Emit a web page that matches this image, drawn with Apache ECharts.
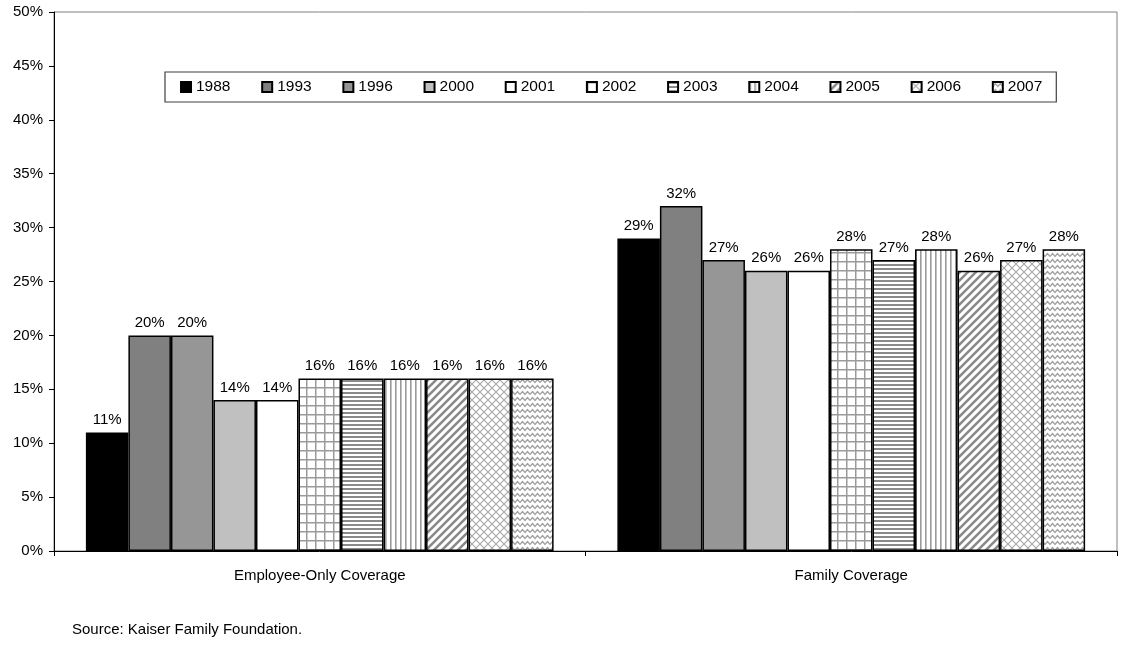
<!DOCTYPE html>
<html>
<head>
<meta charset="utf-8">
<script src="https://cdn.jsdelivr.net/npm/echarts@6/dist/echarts.min.js"></script>
<style>
  html, body { margin: 0; padding: 0; background: #fff; }
  #chart { width: 1122px; height: 658px; }
</style>
</head>
<body>
<div id="chart"></div>
<script>
// Share of premium paid by workers, by coverage type and year
const categories = ['Employee-Only Coverage', 'Family Coverage'];
const years = ['1988', '1993', '1996', '2000', '2001', '2002', '2003', '2004', '2005', '2006', '2007'];
const employeeOnly = [11, 20, 20, 14, 14, 16, 16, 16, 16, 16, 16];
const family = [29, 32, 27, 26, 26, 28, 27, 28, 26, 27, 28];
const yTicks = [0, 5, 10, 15, 20, 25, 30, 35, 40, 45, 50];
const sourceNote = 'Source: Kaiser Family Foundation.';

const FONT = '"Liberation Sans", Arial, sans-serif';

// Fill patterns drawn on small canvas tiles
function tile(w, h, draw) {
  const c = document.createElement('canvas');
  c.width = w; c.height = h;
  const ctx = c.getContext('2d');
  ctx.fillStyle = '#ffffff';
  ctx.fillRect(0, 0, w, h);
  draw(ctx, w, h);
  return { image: c, repeat: 'repeat' };
}
const patGrid = tile(9, 9, (ctx) => {
  ctx.fillStyle = '#9a9a9a';
  ctx.fillRect(0, 0, 9, 1.5);
  ctx.fillRect(0, 0, 1.5, 9);
});
const patHoriz = tile(4, 4, (ctx) => {
  ctx.fillStyle = '#8a8a8a';
  ctx.fillRect(0, 0, 4, 2);
});
const patVert = tile(5, 5, (ctx) => {
  ctx.fillStyle = '#9a9a9a';
  ctx.fillRect(0, 0, 1.6, 5);
});
const patDiag = tile(8, 8, (ctx) => {
  ctx.strokeStyle = '#8a8a8a';
  ctx.lineWidth = 2.6;
  ctx.beginPath();
  ctx.moveTo(-2, 10); ctx.lineTo(10, -2);
  ctx.moveTo(-2, 2); ctx.lineTo(2, -2);
  ctx.moveTo(6, 10); ctx.lineTo(10, 6);
  ctx.stroke();
});
const patCross = tile(8, 8, (ctx) => {
  ctx.strokeStyle = '#a8a8a8';
  ctx.lineWidth = 1.1;
  ctx.beginPath();
  ctx.moveTo(0, 0); ctx.lineTo(8, 8);
  ctx.moveTo(8, 0); ctx.lineTo(0, 8);
  ctx.stroke();
});
const patWave = tile(10, 6, (ctx) => {
  ctx.strokeStyle = '#a0a0a0';
  ctx.lineWidth = 1.2;
  ctx.beginPath();
  ctx.moveTo(0, 4.5); ctx.lineTo(2.5, 1.5); ctx.lineTo(5, 4.5); ctx.lineTo(7.5, 1.5); ctx.lineTo(10, 4.5);
  ctx.stroke();
});

const fills = ['#000000', '#808080', '#969696', '#c0c0c0', '#ffffff',
  patGrid, patHoriz, patVert, patDiag, patCross, patWave];

const series = years.map((y, i) => ({
  name: y,
  type: 'bar',
  barGap: '0%',
  barCategoryGap: '12%',
  data: [employeeOnly[i], family[i]],
  itemStyle: { color: fills[i], borderColor: '#000', borderWidth: 1.5 },
  label: {
    show: true,
    position: 'top',
    distance: 5,
    formatter: '{c}%',
    fontFamily: FONT,
    fontSize: 15,
    color: '#000'
  },
  emphasis: { disabled: true },
  animation: false
}));

const chart = echarts.init(document.getElementById('chart'), null, { renderer: 'canvas' });
chart.setOption({
  backgroundColor: '#ffffff',
  animation: false,
  grid: {
    left: 54, right: 5, top: 12, bottom: 107,
    show: true, borderColor: '#808080', borderWidth: 1, backgroundColor: '#ffffff'
  },
  legend: {
    data: years,
    left: 165,
    top: 72,
    padding: [7, 14, 7, 15],
    itemWidth: 10,
    itemHeight: 10,
    itemGap: 30.7,
    borderColor: '#404040',
    borderWidth: 1.2,
    backgroundColor: '#ffffff',
    icon: 'rect',
    textStyle: { fontFamily: FONT, fontSize: 15.5, color: '#000' },
    selectedMode: false
  },
  xAxis: {
    type: 'category',
    data: categories,
    axisLine: { show: true, lineStyle: { color: '#000', width: 1 } },
    axisTick: { show: true, alignWithLabel: false, length: 5, lineStyle: { color: '#000' } },
    axisLabel: { fontFamily: FONT, fontSize: 15, color: '#000', margin: 17 }
  },
  yAxis: {
    type: 'value',
    min: yTicks[0],
    max: yTicks[yTicks.length - 1],
    interval: yTicks[1] - yTicks[0],
    axisLine: { show: true, lineStyle: { color: '#000', width: 1 } },
    axisTick: { show: true, length: 5, lineStyle: { color: '#000' } },
    splitLine: { show: false },
    axisLabel: { formatter: '{value}%', fontFamily: FONT, fontSize: 15, color: '#000', margin: 11 }
  },
  graphic: [{
    type: 'text',
    left: 72,
    top: 622,
    style: { text: sourceNote, fontFamily: FONT, fontSize: 15, fill: '#000' }
  }],
  series: series
});
</script>
</body>
</html>
